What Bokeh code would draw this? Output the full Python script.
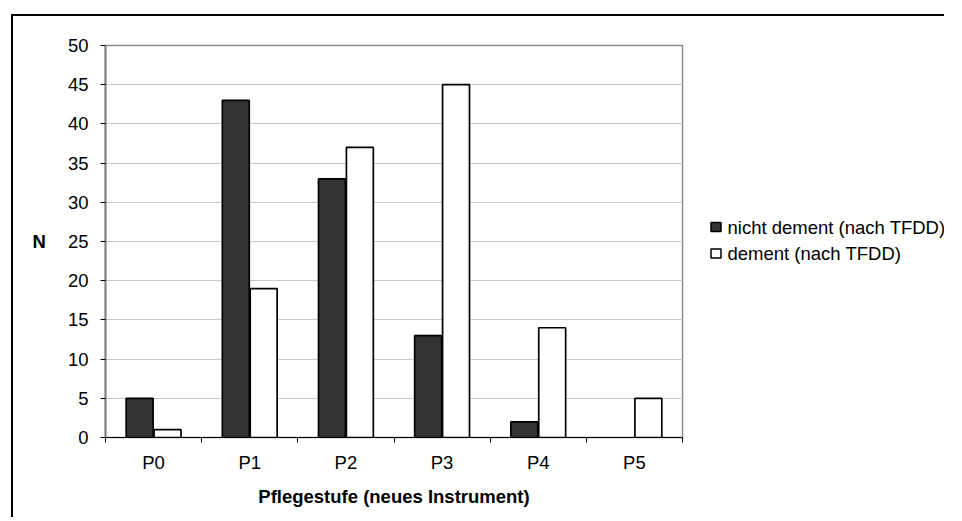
from bokeh.plotting import figure
from bokeh.layouts import row
from bokeh.models import ColumnDataSource, FixedTicker, Range1d
from bokeh.core.properties import value
from bokeh.transform import dodge
from bokeh.embed import file_html
from bokeh.resources import INLINE

categories = ["P0", "P1", "P2", "P3", "P4", "P5"]
nicht_dement = [5, 43, 33, 13, 2, 0]
dement = [1, 19, 37, 45, 14, 5]
series_labels = ["nicht dement (nach TFDD)", "dement (nach TFDD)"]
y_ticks = [0, 5, 10, 15, 20, 25, 30, 35, 40, 45, 50]

FONT = "Liberation Sans"
FS = "18.5px"
DARK = "#333333"
series_colors = [DARK, "white"]

pos = [i + 0.5 for i in range(len(categories))]
src_nd = ColumnDataSource(dict(x=[p for p, v in zip(pos, nicht_dement) if v > 0],
                               top=[v for v in nicht_dement if v > 0]))
src_d = ColumnDataSource(dict(x=[p for p, v in zip(pos, dement) if v > 0],
                              top=[v for v in dement if v > 0]))

p = figure(output_backend="svg", toolbar_location=None,
           x_range=(0, len(categories)), y_range=(0, 50),
           frame_width=577, frame_height=392,
           min_border_left=92, min_border_top=29, min_border_right=2, min_border_bottom=80)
p.background_fill_color = "white"
p.border_fill_color = "white"
p.outline_line_color = "#8c8c8c"
p.outline_line_width = 1.5

p.vbar(x=dodge("x", -0.145, range=p.x_range), top="top", bottom=0, width=0.28,
       source=src_nd, fill_color=series_colors[0], line_color="black", line_width=1.7)
p.vbar(x=dodge("x", 0.145, range=p.x_range), top="top", bottom=0, width=0.28,
       source=src_d, fill_color=series_colors[1], line_color="black", line_width=1.7)

# y axis
p.yaxis.ticker = FixedTicker(ticks=y_ticks)
p.yaxis.axis_line_color = "#808080"
p.yaxis.axis_line_width = 2
p.yaxis.major_tick_line_color = "black"
p.yaxis.major_tick_out = 5
p.yaxis.major_tick_in = 0
p.yaxis.minor_tick_line_color = None
p.yaxis.major_label_text_font = FONT
p.yaxis.major_label_text_font_size = FS
p.yaxis.major_label_text_color = "black"
p.yaxis.major_label_standoff = 12
p.yaxis.axis_label = "N"
p.yaxis.axis_label_orientation = "horizontal"
p.yaxis.axis_label_text_font = FONT
p.yaxis.axis_label_text_font_size = FS
p.yaxis.axis_label_text_font_style = "bold"
p.yaxis.axis_label_text_color = "black"
p.yaxis.axis_label_standoff = 19

# x axis
p.xaxis.ticker = FixedTicker(ticks=pos, minor_ticks=list(range(len(categories) + 1)))
p.xaxis.major_label_overrides = {pv: c for pv, c in zip(pos, categories)}
p.xaxis.major_tick_line_color = None
p.xaxis.major_tick_out = 0
p.xaxis.major_tick_in = 0
p.xaxis.minor_tick_line_color = "black"
p.xaxis.minor_tick_out = 5
p.xaxis.minor_tick_in = 0
p.xaxis.axis_line_color = "black"
p.xaxis.axis_line_width = 1
p.xaxis.major_label_text_font = FONT
p.xaxis.major_label_text_font_size = FS
p.xaxis.major_label_text_color = "black"
p.xaxis.major_label_standoff = 9
p.xaxis.axis_label = "Pflegestufe (neues Instrument)"
p.xaxis.axis_label_text_font = FONT
p.xaxis.axis_label_text_font_size = FS
p.xaxis.axis_label_text_font_style = "bold"
p.xaxis.axis_label_text_color = "black"
p.xaxis.axis_label_standoff = 10

p.xgrid.grid_line_color = None
p.ygrid.grid_line_color = "#c8c8c8"
p.ygrid.grid_line_width = 1

# legend panel: a pixel-mapped figure holding swatches and labels
LW, LH = 260, 501
lf = figure(output_backend="svg", toolbar_location=None,
            x_axis_type=None, y_axis_type=None,
            x_range=Range1d(0, LW), y_range=Range1d(0, LH),
            frame_width=LW, frame_height=LH,
            min_border_left=0, min_border_right=0, min_border_top=0, min_border_bottom=0)
lf.outline_line_color = None
lf.background_fill_color = "white"
lf.border_fill_color = "white"
lf.xgrid.grid_line_color = None
lf.ygrid.grid_line_color = None

row_y = [319.5 - 26.5 * i for i in range(len(series_labels))]
leg = ColumnDataSource(dict(y=row_y, label=series_labels, color=series_colors))
lf.rect(x=31.5, y="y", width=10, height=9, width_units="screen", height_units="screen",
        fill_color="color", line_color="black", line_width=1.5, source=leg)
lf.text(x=43, y="y", text="label", source=leg, text_font=value(FONT),
        text_font_size=FS, text_color="black", text_baseline="middle",
        text_align="left")

layout = row(p, lf)
layout.styles = {"border-left": "2px solid black", "border-top": "2px solid black",
                 "margin-left": "11px", "margin-top": "14px"}

open("out.html", "w").write(file_html(layout, INLINE))
